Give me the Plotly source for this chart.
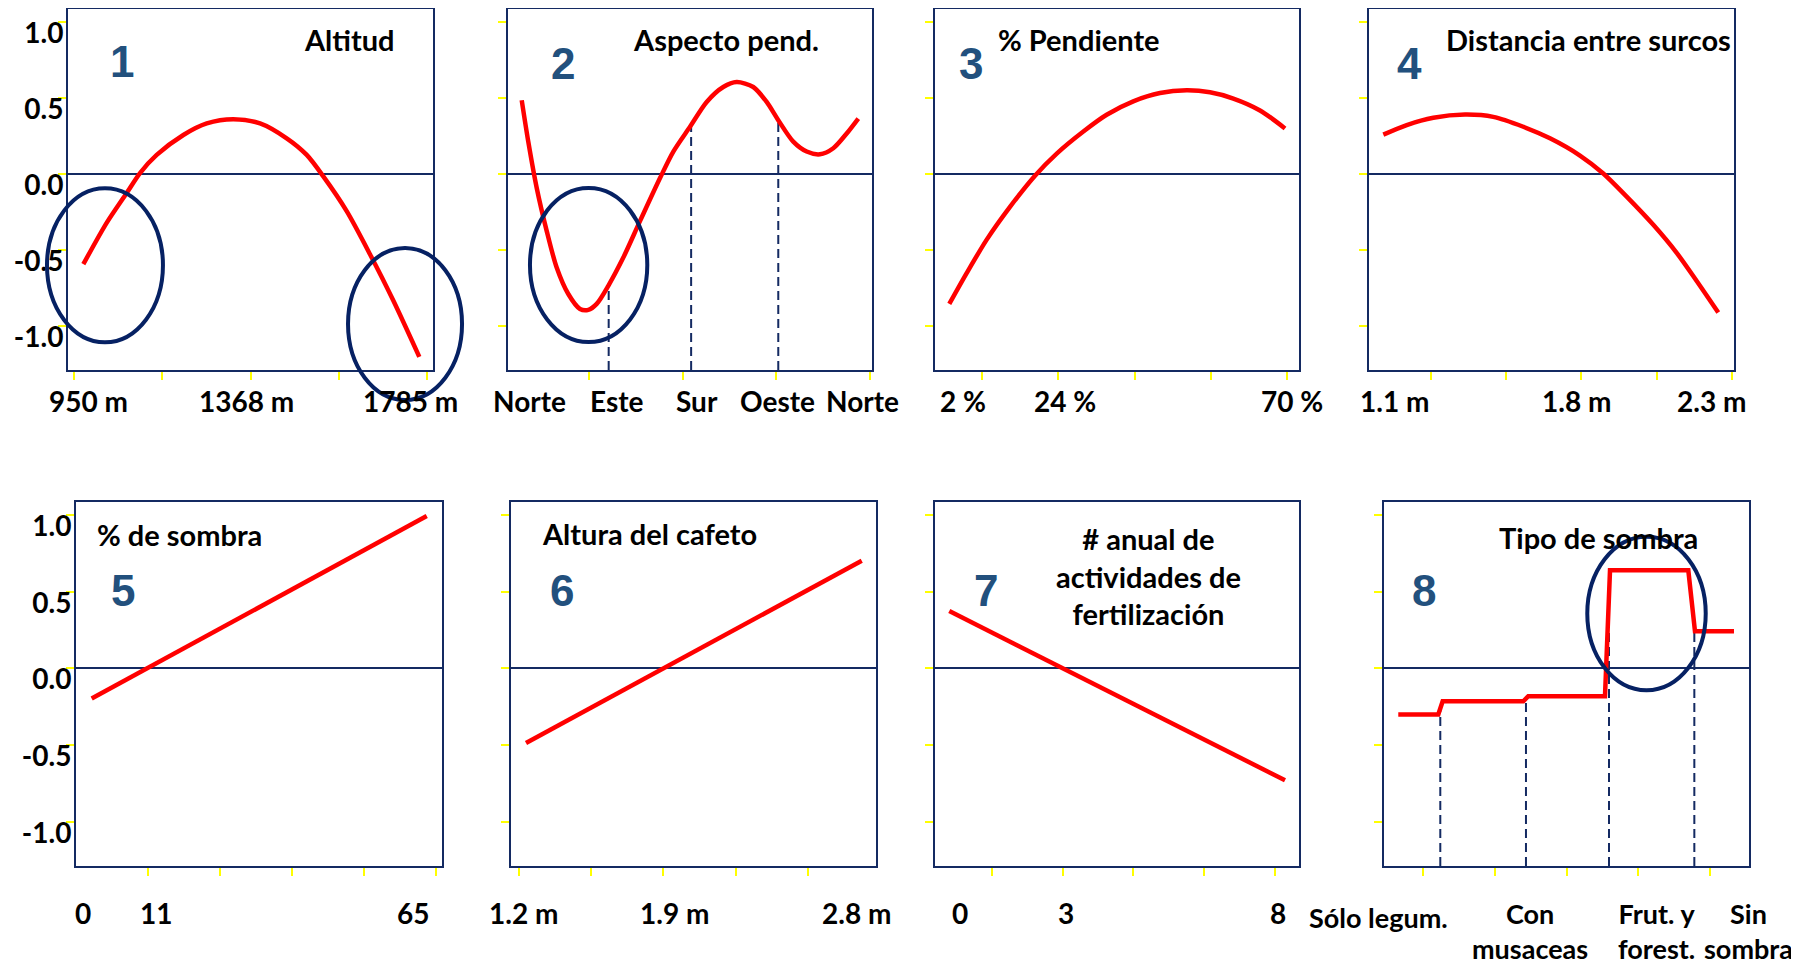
import numpy as np
import plotly.graph_objects as go

# page is shown with the browser's default 8px body margin
PAD = 8
W, H = 1799 - PAD, 965 - PAD
YMIN, YMAX = -1.286, 1.084

# ---------------- data (x in tick units of each panel, y = partial effect) ----------------
p1_x = [0.106, 0.370, 0.597, 0.748, 0.937, 1.239, 1.504, 1.805, 2.108, 2.410, 2.637, 2.825, 3.090, 3.354, 3.618, 3.913]
p1_y = [-0.591, -0.320, -0.124, 0.007, 0.126, 0.257, 0.333, 0.361, 0.333, 0.235, 0.126, -0.015, -0.243, -0.526, -0.830, -1.20]

p2_x = [-0.718, -0.648, -0.558, -0.451, -0.345, -0.221, -0.096, -0.007, 0.082, 0.206, 0.366, 0.544, 0.758,
        0.900, 1.078, 1.256, 1.433, 1.576, 1.753, 1.896, 2.020, 2.180, 2.323, 2.465, 2.607, 2.750, 2.874]
p2_y = [0.485, 0.213, -0.091, -0.374, -0.613, -0.787, -0.885, -0.891, -0.852, -0.733, -0.548, -0.309, -0.026,
        0.148, 0.311, 0.474, 0.572, 0.604, 0.572, 0.474, 0.354, 0.213, 0.148, 0.130, 0.170, 0.267, 0.365]
p2_marks = [0.21, 1.09, 2.02]          # Este, Sur, Oeste

p3_x = [-0.429, -0.201, 0.062, 0.367, 0.695, 0.980, 1.329, 1.635, 1.984, 2.334, 2.685, 2.990, 3.296, 3.646, 3.974]
p3_y = [-0.852, -0.650, -0.430, -0.215, -0.010, 0.135, 0.280, 0.390, 0.478, 0.532, 0.550, 0.537, 0.496, 0.418, 0.300]

p4_x = [-0.634, -0.323, 0.031, 0.452, 0.828, 1.227, 1.582, 1.981, 2.291, 2.602, 2.956, 3.267, 3.533, 3.820]
p4_y = [0.259, 0.322, 0.370, 0.391, 0.376, 0.311, 0.235, 0.122, 0.004, -0.148, -0.333, -0.517, -0.702, -0.909]

p5_x = [-0.777, 3.870]
p5_y = [-0.196, 0.993]

p6_x = [0.097, 4.747]
p6_y = [-0.485, 0.702]

p7_x = [-0.599, 4.143]
p7_y = [0.374, -0.728]

p8_x = [-0.349, 0.209, 0.270, 1.395, 1.464, 2.534, 2.604, 3.696, 3.789, 4.333]
p8_y = [-0.30, -0.30, -0.213, -0.213, -0.180, -0.180, 0.639, 0.639, 0.243, 0.243]
p8_marks = [0.237, 1.432, 2.59, 3.78]

# tick labels
y_ticks = [-1.0, -0.5, 0.0, 0.5, 1.0]
y_labels = ["-1.0", "-0.5", "0.0", "0.5", "1.0"]

p1_labels = ["950 m", "1368 m", "1785 m"]
p2_labels = ["Norte", "Este", "Sur", "Oeste", "Norte"]
p3_labels = ["2 %", "24 %", "70 %"]
p4_labels = ["1.1 m", "1.8 m", "2.3 m"]
p5_labels = ["0", "11", "65"]
p6_labels = ["1.2 m", "1.9 m", "2.8 m"]
p7_labels = ["0", "3", "8"]
p8_labels = ["Sólo legum.", "Con<br>musaceas", "Frut. y<br>forest.", "Sin<br>sombra"]

titles = ["Altitud", "Aspecto pend.", "% Pendiente", "Distancia entre surcos",
          "% de sombra", "Altura del cafeto", "# anual de<br>actividades de<br>fertilización", "Tipo de sombra"]
numbers = ["1", "2", "3", "4", "5", "6", "7", "8"]

# ---------------- layout / styling ----------------
NAVY = "#142A62"
ELL = "#062163"
RED = "#FF0000"
YEL = "#FFFF00"
NUMC = "#22507D"
FONT = "Lato"


def fx(px):
    return (px - PAD) / W


def fy(py):
    return 1 - (py - PAD) / H


# box (L, R, T, B) in screen px, first tick px, tick spacing px, n ticks
panels = [
    dict(box=(68, 433, 9, 370), t0=74, s=88.25, nt=5, x=p1_x, y=p1_y, lab=p1_labels, lpos=[0.16, 1.96, 3.81],
         title=(349, 40), num=(122, 62)),
    dict(box=(508, 872, 9, 370), t0=589, s=93.7, nt=4, x=p2_x, y=p2_y, lab=p2_labels,
         lpos=[-0.63, 0.30, 1.15, 2.01, 2.92], title=(726, 40), num=(563, 63), marks=p2_marks),
    dict(box=(935, 1299, 9, 370), t0=982, s=76.25, nt=5, x=p3_x, y=p3_y, lab=p3_labels, lpos=[-0.25, 1.09, 4.07],
         title=(1079, 40), num=(971, 63)),
    dict(box=(1369, 1734, 9, 370), t0=1431, s=75.2, nt=5, x=p4_x, y=p4_y, lab=p4_labels, lpos=[-0.48, 1.94, 3.73],
         title=(1588, 40), num=(1409, 63)),
    dict(box=(76, 442, 502, 866), t0=147.7, s=72.1, nt=5, x=p5_x, y=p5_y, lab=p5_labels,
         lpos=[-0.893, 0.111, 3.675], title=(179, 534), num=(123, 590)),
    dict(box=(511, 876, 502, 866), t0=519, s=72.2, nt=5, x=p6_x, y=p6_y, lab=p6_labels, lpos=[0.06, 2.16, 4.68],
         title=(649, 533), num=(562, 590)),
    dict(box=(935, 1299, 502, 866), t0=991.7, s=70.8, nt=5, x=p7_x, y=p7_y, lab=p7_labels,
         lpos=[-0.448, 1.049, 4.048], title=(1148, 576), num=(986, 590)),
    dict(box=(1384, 1749, 502, 866), t0=1423.3, s=71.7, nt=5, x=p8_x, y=p8_y, lab=p8_labels,
         lpos=[-0.623, 1.488, 3.255, 4.53], title=(1598, 537), num=(1424, 590), marks=p8_marks, step=True),
]

# ellipses: (panel index, x0, x1, y0, y1) in panel data units
ellipses = [
    (1, -0.306, 1.008, -1.104, -0.093),
    (1, 3.105, 4.397, -1.483, -0.485),
    (2, -0.630, 0.622, -1.102, -0.091),
    (8, 2.287, 3.939, -0.142, 0.858),
]

fig = go.Figure()
annotations = []
shapes = []
ranges = {}

for i, p in enumerate(panels, start=1):
    L, R, T, B = p["box"]
    xr = [(L - p["t0"]) / p["s"], (R - p["t0"]) / p["s"]]
    ranges[i] = xr
    sfx = "" if i == 1 else str(i)
    xref, yref = "x" + sfx, "y" + sfx

    # dashed guide lines (under curve)
    for m in p.get("marks", []):
        top = float(np.interp(m, p["x"], p["y"]))
        fig.add_trace(go.Scatter(x=[m, m], y=[YMIN, top], mode="lines", xaxis=xref, yaxis=yref,
                                 line=dict(color=NAVY, width=2, dash="9px,5px"), showlegend=False,
                                 hoverinfo="skip"))
    fig.add_trace(go.Scatter(x=p["x"], y=p["y"], mode="lines", xaxis=xref, yaxis=yref,
                             line=dict(color=RED, width=4.5,
                                       shape="linear" if p.get("step") else "spline",
                                       smoothing=0.8),
                             showlegend=False))

    left_col = i in (1, 5)
    fig.layout["xaxis" + sfx] = dict(
        domain=[fx(L), fx(R)], range=xr, anchor=yref, automargin=False,
        showline=True, linecolor=NAVY, linewidth=2, mirror=True,
        ticks="outside", tickcolor=YEL, ticklen=8, tickwidth=2,
        tickvals=list(range(p["nt"])), showticklabels=False,
        showgrid=False, zeroline=False, fixedrange=True)
    fig.layout["yaxis" + sfx] = dict(
        domain=[fy(B), fy(T)], range=[YMIN, YMAX], anchor=xref, automargin=False,
        showline=True, linecolor=NAVY, linewidth=2, mirror=True,
        ticks="outside", tickcolor=YEL, ticklen=8, tickwidth=2,
        tickvals=y_ticks, ticktext=y_labels, showticklabels=left_col,
        tickfont=dict(family=FONT, size=28, color="black", weight="bold"),
        ticklabelshift=11, ticklabelstandoff=-11, ticklabeloverflow="allow",
        showgrid=False, zeroline=True, zerolinecolor=NAVY, zerolinewidth=2, fixedrange=True)

    # x tick labels (positions given in tick units, placed via the panel's scale)
    step = p.get("step")
    for lab, lp in zip(p["lab"], p["lpos"]):
        if step:
            yc = 917 if "<br>" not in lab else 931
            fs = 27
        else:
            yc = 401 if T < 100 else 913
            fs = 28
        annotations.append(dict(x=(lp - xr[0]) / (xr[1] - xr[0]), xref=f"x{sfx} domain", y=fy(yc), yref="paper",
                                text=lab, showarrow=False, xanchor="center", yanchor="middle",
                                font=dict(family=FONT, size=fs, color="black", weight="bold")))
    # title
    tx, ty = p["title"]
    annotations.append(dict(x=fx(tx), y=fy(ty), xref="paper", yref="paper", text=titles[i - 1],
                            showarrow=False, xanchor="center", yanchor="middle",
                            font=dict(family=FONT, size=29, color="black", weight="bold")))
    nx, ny = p["num"]
    annotations.append(dict(x=fx(nx), y=fy(ny), xref="paper", yref="paper", text=numbers[i - 1],
                            showarrow=False, xanchor="center", yanchor="middle",
                            font=dict(family="Liberation Sans", size=44, color=NUMC, weight="bold")))

for (pi, x0, x1, y0, y1) in ellipses:
    xr = ranges[pi]
    sfx = "" if pi == 1 else str(pi)
    dx = lambda v: (v - xr[0]) / (xr[1] - xr[0])
    dy = lambda v: (v - YMIN) / (YMAX - YMIN)
    shapes.append(dict(type="circle", xref=f"x{sfx} domain", yref=f"y{sfx} domain",
                       x0=dx(x0), x1=dx(x1), y0=dy(y0), y1=dy(y1),
                       line=dict(color=ELL, width=4), fillcolor="rgba(0,0,0,0)", layer="above"))

fig.update_layout(width=W, height=H, margin=dict(l=0, r=0, t=0, b=0, autoexpand=False),
                  paper_bgcolor="white", plot_bgcolor="white",
                  annotations=annotations, shapes=shapes, showlegend=False)

fig.write_html("out.html", config={"displayModeBar": False})
